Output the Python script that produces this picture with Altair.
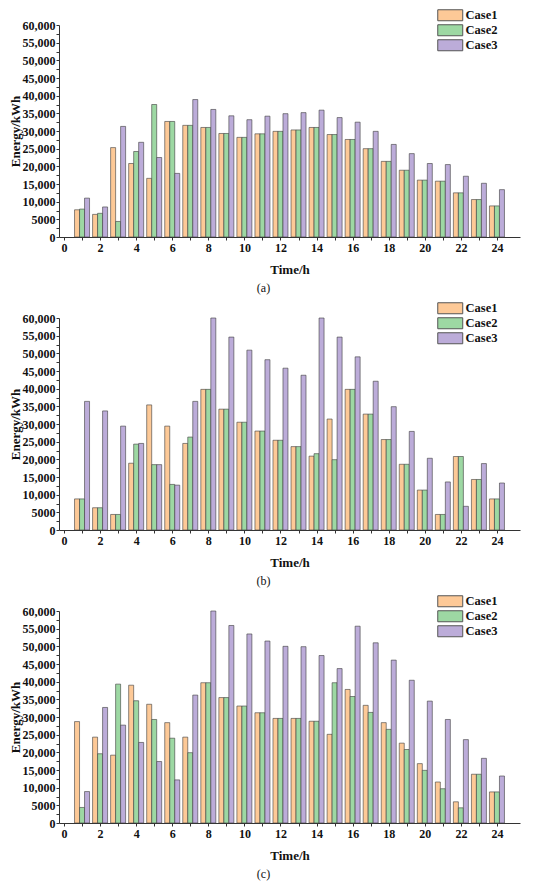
import altair as alt
import pandas as pd

hours = list(range(1, 25))
cases = ["Case1", "Case2", "Case3"]
colors = ["#FDC997", "#9DD8A3", "#BCACD9"]
panel_labels = ["(a)", "(b)", "(c)"]

a_case1 = [7.7, 6.4, 25.3, 20.8, 16.6, 32.7, 31.6, 31.0, 29.3, 28.2, 29.2, 29.9,
           30.3, 31.0, 29.0, 27.6, 25.0, 21.4, 18.9, 16.1, 15.8, 12.5, 10.6, 8.8]
a_case2 = [7.9, 6.7, 4.4, 24.2, 37.5, 32.7, 31.6, 31.0, 29.3, 28.2, 29.2, 29.9,
           30.3, 31.0, 29.0, 27.6, 25.0, 21.4, 18.9, 16.1, 15.8, 12.5, 10.6, 8.8]
a_case3 = [11.0, 8.5, 31.3, 26.8, 22.5, 18.0, 38.9, 36.1, 34.3, 33.2, 34.2, 34.9,
           35.2, 35.9, 33.8, 32.5, 29.9, 26.2, 23.6, 20.8, 20.5, 17.2, 15.2, 13.4]

b_case1 = [8.8, 6.3, 4.4, 18.9, 35.4, 29.4, 24.5, 39.8, 34.2, 30.5, 28.0, 25.4,
           23.6, 20.9, 31.4, 39.8, 32.8, 25.6, 18.6, 11.3, 4.4, 20.8, 14.3, 8.8]
b_case2 = [8.8, 6.3, 4.4, 24.3, 18.5, 12.9, 26.3, 39.8, 34.2, 30.5, 28.0, 25.4,
           23.6, 21.6, 19.9, 39.8, 32.8, 25.6, 18.6, 11.3, 4.4, 20.8, 14.3, 8.8]
b_case3 = [36.4, 33.7, 29.4, 24.5, 18.5, 12.7, 36.4, 60.0, 54.6, 50.9, 48.2, 45.8,
           43.8, 60.0, 54.6, 49.0, 42.1, 34.9, 27.9, 20.3, 13.6, 6.7, 18.8, 13.3]

c_case1 = [28.7, 24.3, 19.2, 39.0, 33.6, 28.4, 24.3, 39.7, 35.5, 33.1, 31.2, 29.6,
           29.6, 28.8, 25.1, 37.8, 33.3, 28.4, 22.6, 16.8, 11.6, 6.0, 13.8, 8.8]
c_case2 = [4.4, 19.6, 39.3, 34.6, 29.3, 24.0, 19.9, 39.7, 35.5, 33.1, 31.2, 29.6,
           29.6, 28.8, 39.7, 35.8, 31.3, 26.5, 20.8, 14.9, 9.7, 4.3, 13.8, 8.8]
c_case3 = [8.9, 32.7, 27.7, 22.8, 17.4, 12.2, 36.2, 60.0, 55.9, 53.5, 51.5, 50.0,
           49.9, 47.4, 43.7, 55.7, 51.0, 46.1, 40.4, 34.5, 29.3, 23.6, 18.3, 13.3]

panels = [
    [a_case1, a_case2, a_case3],
    [b_case1, b_case2, b_case3],
    [c_case1, c_case2, c_case3],
]

FONT = "Liberation Serif"
BAR_W = 5


def make_panel(series, label):
    rows = []
    for case, vals in zip(cases, series):
        for h, v in zip(hours, vals):
            rows.append({"hour": h, "case": case, "energy": v * 1000})
    df = pd.DataFrame(rows)
    base = alt.Chart(df)
    layers = []
    for i, case in enumerate(cases):
        layer = base.transform_filter(alt.datum.case == case).mark_bar(
            width=BAR_W, xOffset=(i - 1) * BAR_W, stroke="#3c3c3c", strokeWidth=0.6
        ).encode(
            x=alt.X(
                "hour:Q",
                scale=alt.Scale(domain=[0, 25], nice=False),
                axis=alt.Axis(
                    title="Time/h",
                    values=list(range(0, 25)),
                    labelExpr="datum.value % 2 == 0 ? datum.value : ''",
                    grid=False,
                    tickSize=3,
                    labelPadding=2,
                    titlePadding=10,
                ),
            ),
            y=alt.Y(
                "energy:Q",
                scale=alt.Scale(domain=[0, 60000], nice=False),
                axis=alt.Axis(
                    title="Energy/kWh",
                    values=list(range(0, 60001, 2500)),
                    labelExpr="datum.value % 5000 != 0 ? '' : (datum.value >= 10000 ? format(datum.value, ',') : format(datum.value, 'd'))",
                    grid=False,
                    tickSize=3,
                    labelPadding=1,
                    titlePadding=0,
                ),
            ),
            color=alt.Color(
                "case:N",
                scale=alt.Scale(domain=cases, range=colors),
                legend=alt.Legend(
                    title=None,
                    orient="none",
                    legendX=385,
                    legendY=-16,
                    direction="vertical",
                    symbolType="M-2.27,-1L2.27,-1L2.27,1L-2.27,1Z",
                    symbolSize=121,
                    symbolStrokeColor="#555555",
                    symbolStrokeWidth=1,
                    labelFont=FONT,
                    labelFontSize=12.5,
                    labelFontWeight="bold",
                    labelColor="#111111",
                    rowPadding=-1,
                    labelOffset=9,
                    padding=0,
                ),
            ),
        )
        layers.append(layer)
    return alt.layer(*layers).properties(
        width=461,
        height=212,
        title=alt.TitleParams(
            text=label,
            orient="bottom",
            font=FONT,
            fontSize=12,
            fontWeight="normal",
            color="#111111",
            anchor="middle",
            dx=-26,
            offset=7,
        ),
    )


chart = alt.vconcat(
    *[make_panel(s, l) for s, l in zip(panels, panel_labels)], spacing=6
).resolve_scale(color="independent").properties(
    padding={"left": 0, "top": 0, "right": 0, "bottom": 0}
).configure_view(
    stroke="transparent"
).configure_axis(
    labelFont=FONT,
    labelFontSize=12,
    labelFontWeight="bold",
    labelColor="#111111",
    titleFont=FONT,
    titleFontSize=13,
    titleFontWeight="bold",
    titleColor="#111111",
    domainColor="#333333",
    tickColor="#333333",
)

chart.save("out.html", embed_options={"renderer": "svg", "actions": False})
